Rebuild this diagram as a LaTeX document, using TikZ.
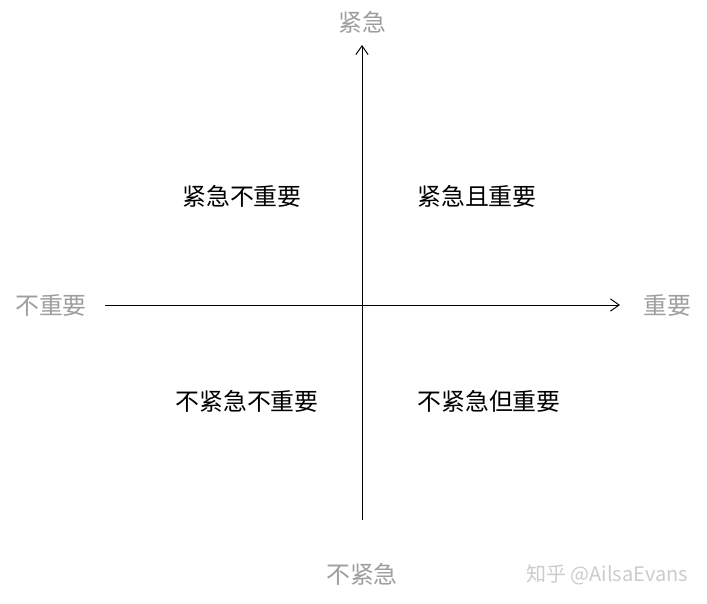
\documentclass[tikz,border=0pt]{standalone}
\usepackage{fontspec}
\setmainfont{Noto Sans CJK SC}
\usetikzlibrary{arrows.meta}
\definecolor{axislabel}{gray}{0.62}
\definecolor{markgray}{gray}{0.80}
\tikzset{quadrant/.style={font=\fontsize{13.6pt}{16pt}\selectfont,text=black},
  axistext/.style={font=\fontsize{13.6pt}{16pt}\selectfont,text=axislabel},
  axisline/.style={line width=0.55pt,-{Straight Barb[length=5pt,width=7pt,line width=0.55pt]}},}

\begin{document}
\begin{tikzpicture}[x=0.02cm,y=-0.02cm]
      \useasboundingbox[fill=white] (0,0) rectangle (707,603);

      \coordinate (west) at (105,305);
      \coordinate (east) at (620,305);
      \coordinate (south) at (362,520);
      \coordinate (north) at (362,45);

      \draw[axisline] (west)--(east);
      \draw[axisline] (south)--(north);

      \node[axistext] (urgent) at (362,22) {紧急};
      \node[axistext] (noturgent) at (362,574) {不紧急};
      \node[axistext] (notimportant) at (51,305) {不重要};
      \node[axistext] (important) at (667,305) {重要};

      \node[quadrant] (q2) at (242,196) {紧急不重要};
      \node[quadrant] (q1) at (477,196) {紧急且重要};
      \node[quadrant] (q3) at (247,401) {不紧急不重要};
      \node[quadrant] (q4) at (489,401) {不紧急但重要};

      \node[font=\fontsize{11.4pt}{13pt}\selectfont,text=markgray] (mark) at (607,575) {知乎 @AilsaEvans};
    \end{tikzpicture}
\end{document}
